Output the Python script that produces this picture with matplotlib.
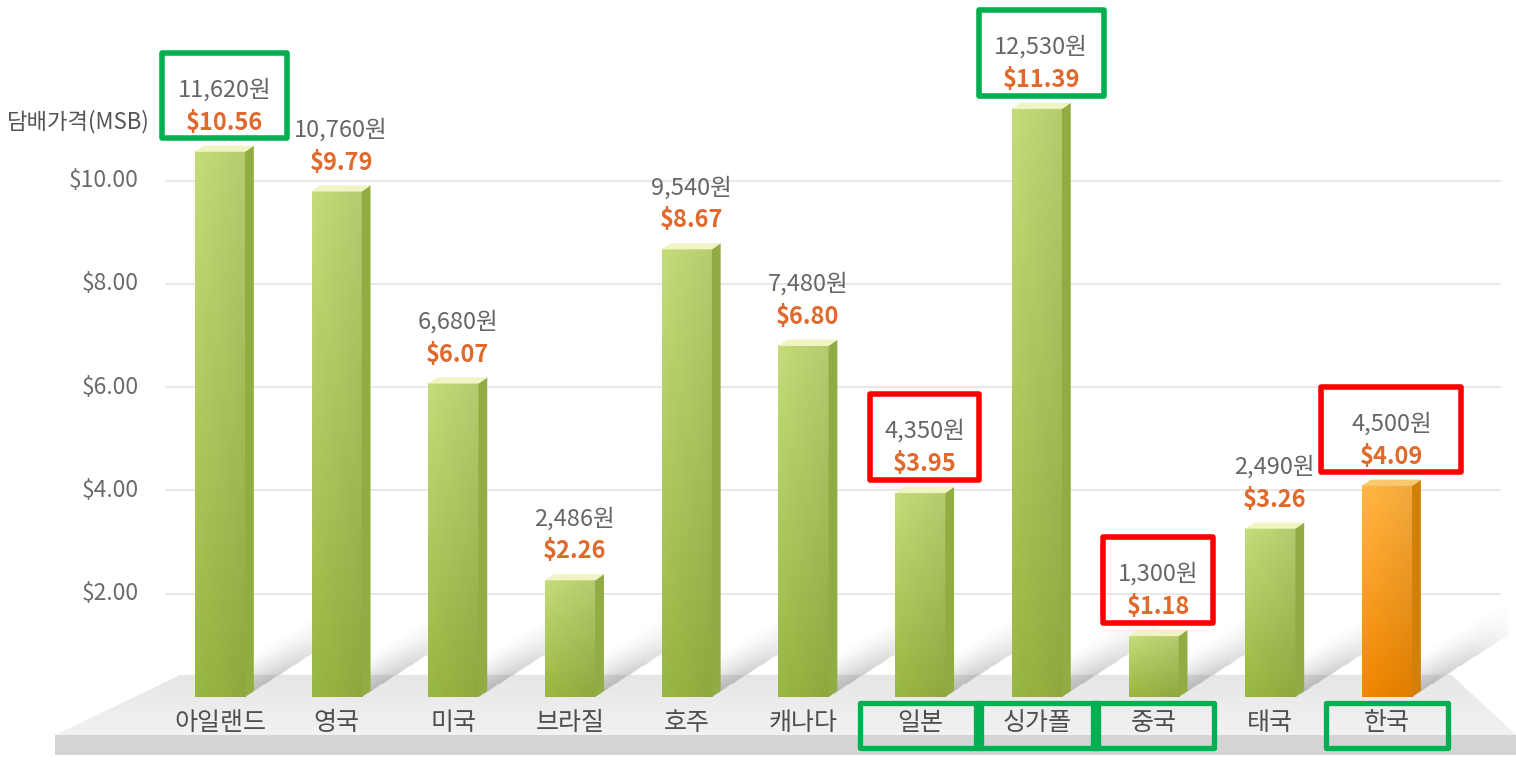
import matplotlib.pyplot as plt
import numpy as np
from matplotlib.patches import Polygon, Rectangle
from matplotlib.colors import to_rgb

plt.rcParams['font.family'] = ['Noto Sans CJK KR', 'DejaVu Sans']

# data
countries = ['아일랜드', '영국', '미국', '브라질', '호주', '캐나다', '일본', '싱가폴', '중국', '태국', '한국']
won = ['11,620원', '10,760원', '6,680원', '2,486원', '9,540원', '7,480원',
       '4,350원', '12,530원', '1,300원', '2,490원', '4,500원']
usd = [10.56, 9.79, 6.07, 2.26, 8.67, 6.80, 3.95, 11.39, 1.18, 3.26, 4.09]
yticks = [2, 4, 6, 8, 10]
ylabel = '담배가격(MSB)'
green_value_boxes = [0, 7]
red_value_boxes = [6, 8, 10]
label_boxes = [6, 7, 8, 10]
highlight = 10

fig = plt.figure(figsize=(15.16, 7.6), dpi=100, facecolor='white')
ax = fig.add_axes([0, 0, 1, 1])
ax.set_xlim(-1.885, 11.105)
ax.set_ylim(-1.22, 13.5)
ax.axis('off')

# floor
floor = Polygon([(-0.34, 0.43), (10.55, 0.43), (11.11, -0.74), (-1.41, -0.74)],
                closed=True, facecolor='none', edgecolor='none')
ax.add_patch(floor)
g = np.linspace(0, 1, 60)[:, None]
top_c = np.array(to_rgb('#e6e6e6'))
bot_c = np.array(to_rgb('#f2f2f2'))
floor_img = (top_c * (1 - g) + bot_c * g)[:, None, :].repeat(2, axis=1)
im = ax.imshow(floor_img, extent=[-1.41, 11.11, -0.74, 0.43], aspect='auto',
               origin='upper', zorder=1)
im.set_clip_path(floor)
ax.add_patch(Rectangle((-1.41, -1.12), 12.6, 0.38, facecolor='#d4d4d4',
                       edgecolor='none', zorder=1))

# grid
for t in yticks:
    ax.plot([-0.46, 10.97], [t, t], color='#e4e4e4', lw=1.2, zorder=0.5)
    ax.text(-0.70, t, f'${t:.2f}', ha='right', va='center', fontsize=16.5,
            color='#6a6a6a')
ax.text(-0.60, 11.14, ylabel, ha='right', va='center', fontsize=16, color='#555555')

w = 0.43
dx = 0.075
dy = 0.12
for i, v in enumerate(usd):
    xl = i - w / 2
    xr = i + w / 2
    if i == highlight:
        ct, cb, side, topf = '#fbb040', '#e88200', '#d47f0c', '#f8c870'
    else:
        ct, cb, side, topf = '#bcd474', '#93b040', '#90ac42', '#f0f4c2'
    # diagonal shadow
    sx0, sx1, sy1 = xr - 0.05, xr + 0.9, 2.0
    xs = np.linspace(sx0, sx1, 90)[None, :]
    ys = np.linspace(sy1, 0, 120)[:, None]
    tt = (ys - 1.44 * (xs - xr)) / 0.75
    far = np.clip(1 - (xs - xr) / 0.85, 0, 1) ** 0.7
    alpha = np.where((tt >= 0) & (tt <= 1), 0.5 * (1 - tt) ** 1.5, 0) * far
    sh = np.zeros((120, 90, 4))
    sh[..., :3] = 0.5
    sh[..., 3] = alpha
    ax.imshow(sh, extent=[sx0, sx1, 0, sy1], aspect='auto', origin='upper',
              zorder=2, interpolation='bilinear')
    # front face gradient
    gv = np.linspace(0, 1, 80)[:, None, None]
    gh = np.linspace(0, 1, 20)[None, :, None]
    col = np.array(to_rgb(ct)) * (1 - gv) + np.array(to_rgb(cb)) * gv
    col = np.clip(col * (1.04 - 0.08 * gh), 0, 1)
    ax.imshow(col, extent=[xl, xr, 0, v], aspect='auto', origin='upper', zorder=3)
    ax.add_patch(Polygon([(xr, 0), (xr + dx, dy), (xr + dx, v + dy), (xr, v)],
                         closed=True, facecolor=side, edgecolor='none', zorder=3))
    ax.add_patch(Polygon([(xl, v), (xr, v), (xr + dx, v + dy), (xl + dx, v + dy)],
                         closed=True, facecolor=topf, edgecolor='none', zorder=3))
    # labels
    ax.text(i + dx / 2, v + 1.2, won[i], ha='center', va='center', fontsize=17,
            color='#666666', zorder=5)
    ax.text(i + dx / 2, v + 0.56, f'${v:.2f}', ha='center', va='center', fontsize=17,
            color='#e0692c', fontweight='bold', zorder=5)
    ax.text(i, -0.5, countries[i], ha='center', va='center', fontsize=18,
            color='#4f4f4f', zorder=5)

# highlight boxes
box_w = {0: 1.07, 7: 1.07, 6: 0.93, 8: 0.94, 10: 1.2}
for i in green_value_boxes + red_value_boxes:
    c = '#00b050' if i in green_value_boxes else '#ff0000'
    v = usd[i]
    cx = i + dx / 2
    ax.add_patch(Rectangle((cx - box_w[i] / 2, v + 0.26), box_w[i], 1.66, fill=False,
                           edgecolor=c, lw=4, joinstyle='round', zorder=6))
for i in label_boxes:
    ax.add_patch(Rectangle((i - 0.52, -0.98), 1.04, 0.86, fill=False,
                           edgecolor='#00b050', lw=3.8, joinstyle='round', zorder=6))

fig.savefig('out.png', dpi=100, facecolor='white')
